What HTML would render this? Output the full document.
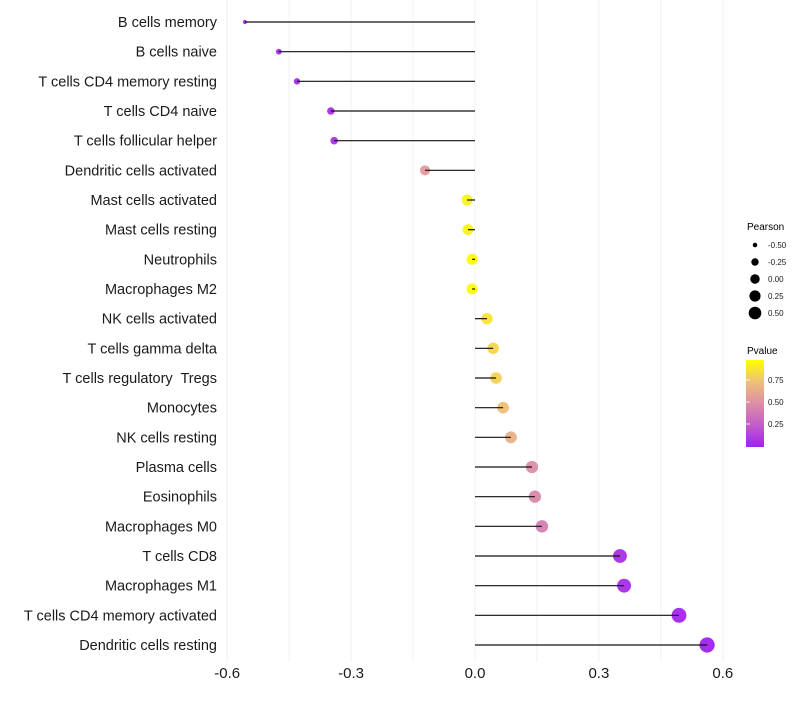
<!DOCTYPE html>
<html><head><meta charset="utf-8"><style>
body{margin:0;background:#fff;font-family:"Liberation Sans",sans-serif;}
svg text{font-family:"Liberation Sans",sans-serif;white-space:pre;}
</style></head><body>
<svg id="chart" width="800" height="700" xmlns="http://www.w3.org/2000/svg">
<defs><linearGradient id="pg" x1="0" y1="1" x2="0" y2="0">
<stop offset="0" stop-color="#a020f0"/><stop offset="0.25" stop-color="#c35ccc"/>
<stop offset="0.5" stop-color="#dc8fa4"/><stop offset="0.75" stop-color="#efbf78"/>
<stop offset="1" stop-color="#ffff00"/></linearGradient></defs>
<g id="grid"></g><g id="dots"></g><g id="lines"></g><g id="ylabels"></g><g id="xticks"></g>
<g id="legend">
<text x="747" y="230" font-size="10">Pearson</text>
<g id="sizeLegend"></g>
<text x="747" y="354" font-size="10">Pvalue</text>
<rect x="746" y="360" width="18" height="87" fill="url(#pg)"/>
<g id="colorTicks"></g>
</g>
</svg>
<script>
const categories=["B cells memory","B cells naive","T cells CD4 memory resting","T cells CD4 naive","T cells follicular helper","Dendritic cells activated","Mast cells activated","Mast cells resting","Neutrophils","Macrophages M2","NK cells activated","T cells gamma delta","T cells regulatory  Tregs","Monocytes","NK cells resting","Plasma cells","Eosinophils","Macrophages M0","T cells CD8","Macrophages M1","T cells CD4 memory activated","Dendritic cells resting"];
const pearson=[-0.557,-0.475,-0.431,-0.349,-0.341,-0.121,-0.019,-0.017,-0.007,-0.007,0.029,0.044,0.051,0.068,0.087,0.138,0.145,0.162,0.351,0.361,0.494,0.562];
const pvalue=[0.02,0.03,0.04,0.06,0.07,0.55,0.95,0.95,0.98,0.98,0.9,0.84,0.82,0.75,0.67,0.5,0.47,0.42,0.06,0.05,0.02,0.01];
const xTicks=[-0.6,-0.3,0.0,0.3,0.6];
const xTickLabels=["-0.6","-0.3","0.0","0.3","0.6"];
const sizeLegendValues=[-0.5,-0.25,0,0.25,0.5];
const sizeLegendLabels=["-0.50","-0.25","0.00","0.25","0.50"];
const colorLegendValues=[0.25,0.5,0.75];
const colorLegendLabels=["0.25","0.50","0.75"];

const NS="http://www.w3.org/2000/svg";
const x=v=>475+v*413;
const y=i=>22+i*(623/21);
const r=v=>Math.sqrt(Math.max(4,31+48*v));
const stops=[[0,[160,32,240]],[0.25,[195,92,204]],[0.5,[220,143,164]],[0.75,[239,191,120]],[1,[255,255,0]]];
function col(p){for(let k=1;k<stops.length;k++){if(p<=stops[k][0]){const a=stops[k-1],b=stops[k],t=(p-a[0])/(b[0]-a[0]);return "rgb("+a[1].map((c,j)=>Math.round(c+(b[1][j]-c)*t)).join(",")+")";}}return "rgb(255,255,0)";}
function mk(tag,attrs,parent){const e=document.createElementNS(NS,tag);for(const k in attrs)e.setAttribute(k,attrs[k]);document.getElementById(parent).appendChild(e);return e;}

for(let g=-0.6;g<=0.601;g+=0.15){
 const l=mk("line",{x1:x(g),x2:x(g),y1:0,y2:662,stroke:"#f0f0f0","stroke-width":1},"grid");
 
 
}
categories.forEach((c,i)=>{
 const d=mk("circle",{cx:x(pearson[i]),cy:y(i),r:r(pearson[i]),fill:col(pvalue[i]),"fill-opacity":0.95},"dots");
 
 
 const l=mk("line",{x1:x(0),x2:x(pearson[i]),y1:y(i),y2:y(i),stroke:"#111","stroke-width":1.2},"lines");
 
 
 const t=mk("text",{x:217,y:y(i)+5,"text-anchor":"end","font-size":14.5,fill:"#1a1a1a"},"ylabels");
 t.textContent=c;
 
 
});
xTicks.forEach((v,i)=>{
 const t=mk("text",{x:x(v),y:678,"text-anchor":"middle","font-size":15,fill:"#1a1a1a"},"xticks");
 t.textContent=xTickLabels[i];
 
 
});
sizeLegendValues.forEach((v,i)=>{
 const cy=245+i*17;
 const c=mk("circle",{cx:755,cy:cy,r:r(v)*0.85,fill:"#000"},"sizeLegend");
 
 
 const t=mk("text",{x:768,y:cy+3,"font-size":8,fill:"#1a1a1a"},"sizeLegend");
 t.textContent=sizeLegendLabels[i];
 
 
});
colorLegendValues.forEach((v,i)=>{
 const yy=446-v*88;
 const tk=mk("line",{x1:746,x2:750,y1:yy,y2:yy,stroke:"#fff","stroke-width":0.8},"colorTicks");
 
 
 const t=mk("text",{x:768,y:yy+3,"font-size":8,fill:"#1a1a1a"},"colorTicks");
 t.textContent=colorLegendLabels[i];
 
 
});
</script>
</body></html>
